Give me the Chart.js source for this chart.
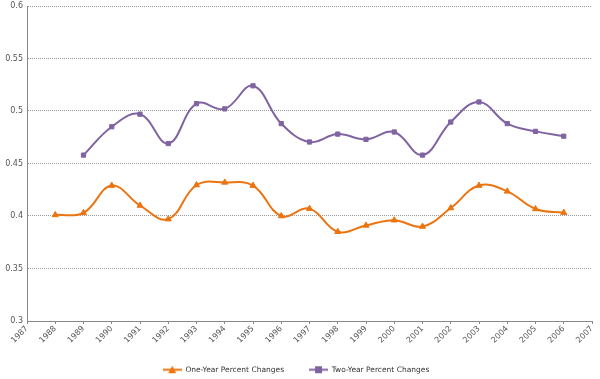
<!DOCTYPE html>
<html><head><meta charset="utf-8">
<script src="https://cdn.jsdelivr.net/npm/chart.js@4/dist/chart.umd.min.js"></script>
<style>html,body{margin:0;padding:0;background:#fff}#wrap{width:600px;height:379px}</style>
</head><body><div id="wrap"><canvas id="c"></canvas></div>
<script>
const years = ['1987','1988','1989','1990','1991','1992','1993','1994','1995','1996','1997','1998','1999','2000','2001','2002','2003','2004','2005','2006','2007'];
const oneYear = [null,0.401,0.403,0.429,0.410,0.397,0.4295,0.432,0.429,0.400,0.407,0.385,0.391,0.396,0.390,0.4076,0.429,0.4235,0.4067,0.4032,null];
const twoYear = [null,null,0.458,0.485,0.497,0.469,0.507,0.502,0.524,0.488,0.4705,0.478,0.473,0.480,0.458,0.4895,0.5086,0.488,0.4806,0.476,null];
const yTicks = [0.3,0.35,0.4,0.45,0.5,0.55,0.6];
const ORANGE = '#EC7410', PURPLE = '#8064A2';

function legendIcon(color, shape){
  const c = document.createElement('canvas'); c.width = 19; c.height = 9;
  const x = c.getContext('2d');
  x.strokeStyle = color; x.lineWidth = 2;
  x.beginPath(); x.moveTo(0,4.5); x.lineTo(19,4.5); x.stroke();
  x.fillStyle = color;
  if (shape === 'tri'){ x.beginPath(); x.moveTo(9.5,0.5); x.lineTo(13.5,8); x.lineTo(5.5,8); x.closePath(); x.fill(); }
  else { x.fillRect(6,1,7,7); }
  return c;
}
const icons = [legendIcon(ORANGE,'tri'), legendIcon(PURPLE,'sq')];

new Chart(document.getElementById('c'), {
  type: 'line',
  data: { labels: years, datasets: [
    { label: 'One-Year Percent Changes', data: oneYear, borderColor: ORANGE, backgroundColor: ORANGE, borderWidth: 2, tension: 0.4, pointStyle: 'triangle', pointRadius: 3.5, pointBorderWidth: 1 },
    { label: 'Two-Year Percent Changes', data: twoYear, borderColor: PURPLE, backgroundColor: PURPLE, borderWidth: 2, tension: 0.4, pointStyle: 'rect', pointRadius: 3, pointBorderWidth: 1 }
  ]},
  options: {
    responsive: true, maintainAspectRatio: false, animation: false,
    layout: { padding: { top: 0, right: 8, left: 0, bottom: 0 } },
    plugins: {
      legend: { position: 'bottom', maxHeight: 15, labels: { usePointStyle: true, pointStyleWidth: 19, boxHeight: 9, padding: 25, color: '#333',
        font: { family: 'DejaVu Sans', size: 7.5 },
        generateLabels(chart){ return chart.data.datasets.map((d,i)=>({ text: d.label, pointStyle: icons[i], fillStyle: d.borderColor, strokeStyle: d.borderColor, lineWidth: 0, datasetIndex: i, fontColor: '#333' })); } } },
      tooltip: { enabled: false }
    },
    scales: {
      x: { offset: false,
        grid: { drawOnChartArea: false, drawTicks: true, tickLength: 3, color: '#888' },
        border: { display: true, color: '#888', dash: [1,1] },
        ticks: { maxRotation: 45, minRotation: 45, autoSkip: false, color: '#555', padding: 0, font: { family: 'DejaVu Sans', size: 8 } },
        afterFit(s){ s.height = 43; } },
      y: { min: 0.3, max: 0.6,
        afterBuildTicks(s){ s.ticks = yTicks.map(v=>({value:v})); },
        grid: { color: '#999', drawTicks: false, lineWidth: 1 },
        border: { display: true, color: '#888', dash: [1,1] },
        ticks: { color: '#555', padding: 4, font: { family: 'DejaVu Sans', size: 8 }, callback: v => String(+v.toFixed(2)) },
        afterFit(s){ s.width = 27; s.paddingTop = 6; } }
    }
  },
  plugins: [{ id: 'legendShift', afterLayout(chart){ const l = chart.legend; if (!l) return; l.top = l.bottom - 38; l.height = 38; } }]
});
</script></body></html>
